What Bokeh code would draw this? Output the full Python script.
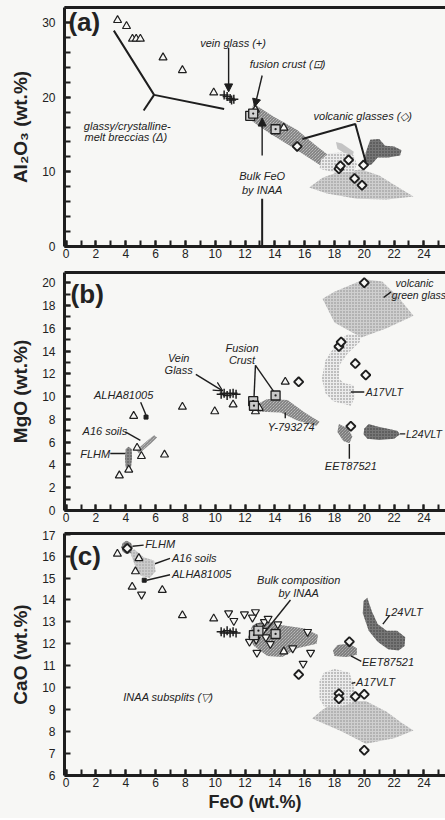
import math
from bokeh.plotting import figure
from bokeh.layouts import column
from bokeh.models import (LinearAxis, SingleIntervalTicker, FixedTicker, Range1d,
                          Arrow, NormalHead, OpenHead)
from bokeh.core.properties import value
from bokeh.embed import file_html
from bokeh.resources import INLINE

# ---------------- Panel (a): Al2O3 vs FeO ----------------
a_brec_feo = [3.45, 4.05, 4.45, 4.7, 4.98, 6.5, 7.8, 9.9, 12.7, 14.6]
a_brec_al = [30.3, 29.5, 27.8, 27.8, 27.8, 25.3, 23.6, 20.6, 18.3, 15.9]
a_vein_feo = [10.6, 10.8, 11.0, 11.1, 11.25]
a_vein_al = [20.3, 20.1, 19.8, 19.6, 19.7]
a_crust_feo = [12.35, 12.55, 14.05]
a_crust_al = [17.5, 17.8, 15.7]
a_volc_feo = [15.5, 18.3, 18.4, 18.95, 19.95, 19.35, 19.85]
a_volc_al = [13.4, 10.4, 10.8, 11.6, 10.9, 9.1, 8.2]

a_band_x = [12.3, 12.6, 13.9, 15.5, 16.9, 17.8, 18.0, 17.1, 15.5, 13.7, 12.4]
a_band_y = [17.8, 19.1, 17.4, 15.6, 13.3, 11.9, 10.4, 10.8, 12.9, 15.1, 16.9]
a_big_x = [16.3, 17.2, 18.3, 19.8, 21.0, 22.3, 23.3, 21.5, 19.5, 17.5]
a_big_y = [7.9, 9.2, 10.0, 10.3, 9.5, 7.9, 6.7, 6.3, 6.4, 7.1]
a_grid_x = [17.0, 17.1, 17.6, 18.6, 19.3, 19.5, 19.3, 18.0]
a_grid_y = [10.4, 11.6, 12.5, 12.6, 12.2, 11.0, 10.0, 9.9]
a_light_x = [18.1, 18.5, 19.3, 19.2, 18.6, 18.2]
a_light_y = [14.0, 13.8, 12.7, 12.0, 12.6, 13.1]
a_dark_x = [19.95, 20.1, 20.4, 21.0, 21.4, 22.0, 22.5, 22.4, 21.6, 20.9, 20.5]
a_dark_y = [10.6, 12.6, 14.3, 14.4, 13.5, 13.4, 12.9, 12.2, 11.9, 11.9, 11.0]

a_lines_x = [[3.2, 5.9, 10.6], [5.9, 5.2], [15.85, 19.4, 20.1], [13.15, 13.15]]
a_lines_y = [[28.9, 20.3, 18.4], [20.3, 18.2], [14.4, 16.4, 11.3], [0.0, 6.4]]
a_arrows = [(10.9, 26.6, 10.9, 20.7), (13.15, 22.9, 12.65, 18.7), (13.15, 12.2, 13.15, 17.2)]
a_text = ["vein glass (+)", "fusion crust (⊡)", "glassy/crystalline-", "melt breccias (Δ)",
          "Bulk FeO", "by INAA", "volcanic glasses (◇)"]
a_text_x = [11.2, 14.85, 4.1, 4.0, 13.15, 13.15, 19.9]
a_text_y = [27.3, 24.5, 16.2, 14.6, 9.5, 7.5, 17.5]

# ---------------- Panel (b): MgO vs FeO ----------------
b_brec_feo = [3.57, 4.2, 4.53, 4.76, 5.05, 6.6, 7.8, 9.97, 11.2, 12.7, 12.95, 14.7]
b_brec_mg = [3.07, 3.57, 8.3, 5.5, 4.77, 4.9, 9.1, 8.7, 9.3, 8.7, 9.0, 11.3]
b_vein_feo = [10.4, 10.6, 10.8, 11.0, 11.2, 11.4]
b_vein_mg = [10.2, 10.3, 10.1, 10.25, 10.3, 10.2]
b_crust_feo = [12.55, 12.6, 14.05]
b_crust_mg = [9.6, 9.2, 10.1]
b_volc_feo = [20.0, 18.3, 18.45, 19.4, 20.1, 15.6, 19.1]
b_volc_mg = [20.0, 14.4, 14.8, 12.9, 11.9, 11.3, 7.4]
b_alha_feo = [5.36]
b_alha_mg = [8.2]

b_flhm_x = [4.0, 3.95, 4.0, 4.2, 4.4, 4.42, 4.35, 4.2]
b_flhm_y = [3.8, 4.6, 5.4, 5.6, 5.4, 4.6, 3.8, 3.6]
b_a16_x = [4.7, 5.5, 5.9, 6.1, 5.7, 4.9]
b_a16_y = [5.3, 6.2, 6.6, 6.4, 5.9, 5.0]
b_y79_x = [12.3, 13.5, 14.85, 16.0, 17.0, 16.8, 15.5, 14.4, 12.6]
b_y79_y = [9.0, 9.8, 9.7, 8.6, 7.8, 7.45, 7.9, 8.6, 8.7]
b_green_x = [17.2, 18.0, 20.0, 21.2, 22.3, 23.3, 21.5, 19.8, 18.0]
b_green_y = [18.6, 19.2, 20.3, 20.1, 18.7, 17.1, 16.0, 15.2, 16.5]
b_a17_x = [18.9, 18.2, 17.4, 17.15, 17.4, 17.9, 19.1, 19.35, 19.3, 18.6, 18.3, 18.35, 18.9, 19.7, 19.75]
b_a17_y = [15.5, 14.8, 13.2, 11.6, 10.3, 9.6, 9.2, 9.9, 11.0, 11.2, 11.6, 12.8, 13.8, 14.8, 15.4]
b_eet_x = [18.3, 18.9, 19.2, 19.0, 18.6, 18.2]
b_eet_y = [7.6, 7.2, 6.5, 5.9, 6.1, 6.9]
b_l24_x = [20.0, 20.3, 20.8, 21.5, 22.2, 22.4, 22.0, 21.0, 20.2, 19.95]
b_l24_y = [7.2, 7.6, 7.4, 7.2, 7.0, 6.7, 6.3, 6.2, 6.3, 6.7]

b_lines_x = [[5.0, 5.37], [3.97, 4.98], [2.96, 3.97], [12.7, 12.6], [12.7, 14.0],
             [14.7, 14.7], [21.3, 21.8], [19.1, 20.0], [22.4, 22.75], [19.0, 19.0]]
b_lines_y = [[9.5, 8.35], [6.9, 6.15], [5.0, 5.0], [12.75, 9.8], [12.75, 10.3],
             [8.1, 8.6], [18.7, 19.2], [10.4, 10.4], [6.73, 6.73], [5.85, 4.55]]
b_arrows = [(8.7, 11.95, 10.5, 10.5)]
b_text_c = ["ALHA81005", "A16 soils", "FLHM", "Vein", "Glass", "Fusion", "Crust",
            "Y-793274", "EET87521"]
b_text_c_x = [3.86, 2.6, 1.95, 7.55, 7.55, 11.8, 11.8, 15.1, 19.1]
b_text_c_y = [10.1, 7.0, 5.0, 13.4, 12.3, 14.25, 13.2, 7.3, 3.95]
b_text_l = ["volcanic", "green glass", "A17VLT", "L24VLT"]
b_text_l_x = [22.1, 21.85, 20.1, 22.8]
b_text_l_y = [20.0, 18.9, 10.4, 6.73]

# ---------------- Panel (c): CaO vs FeO ----------------
c_brec_feo = [3.44, 4.88, 4.65, 4.43, 6.45, 7.8, 9.9, 14.6]
c_brec_ca = [16.1, 15.9, 15.3, 14.6, 14.45, 13.3, 13.15, 11.65]
c_inaa_feo = [5.06, 10.9, 11.25, 11.96, 12.7, 12.5, 13.3, 13.55, 14.2, 12.75, 12.8,
              13.4, 13.7, 13.2, 16.2, 15.2, 16.4, 15.9, 12.3, 13.0]
c_inaa_ca = [14.25, 13.4, 13.05, 13.35, 13.45, 13.2, 13.0, 13.15, 12.9, 12.2, 11.6,
             12.3, 12.0, 12.6, 12.55, 11.8, 11.6, 11.1, 12.1, 12.8]
c_vein_feo = [10.4, 10.6, 10.8, 11.0, 11.2, 11.4]
c_vein_ca = [12.55, 12.5, 12.6, 12.5, 12.55, 12.5]
c_crust_feo = [12.6, 14.05, 12.9]
c_crust_ca = [12.4, 12.45, 12.6]
c_volc_feo = [4.1, 19.0, 18.3, 18.3, 19.4, 20.0, 20.0, 15.6]
c_volc_ca = [16.35, 12.1, 9.73, 9.5, 9.6, 9.7, 7.15, 10.6]
c_alha_feo = [5.24]
c_alha_ca = [14.9]

c_flhm_x = [3.7, 3.8, 4.05, 4.35, 4.45, 4.35, 4.05, 3.8]
c_flhm_y = [16.4, 16.6, 16.7, 16.6, 16.4, 16.15, 16.1, 16.2]
c_a16_x = [4.25, 4.6, 5.2, 5.9, 6.0, 5.6, 5.0, 4.6]
c_a16_y = [16.25, 16.3, 15.95, 15.8, 15.3, 15.0, 15.1, 15.6]
c_bulk_x = [12.2, 12.5, 13.3, 14.5, 16.0, 16.9, 16.8, 15.5, 14.5, 13.5, 12.6]
c_bulk_y = [12.3, 12.85, 13.05, 12.85, 12.7, 12.4, 12.0, 11.8, 11.4, 11.45, 11.9]
c_l24_x = [19.9, 19.95, 20.2, 20.5, 20.9, 21.5, 22.2, 22.75, 22.7, 22.3, 21.6, 20.9, 20.3]
c_l24_y = [13.4, 13.95, 14.1, 13.5, 12.9, 12.6, 12.6, 12.3, 11.9, 11.7, 11.75, 12.1, 12.6]
c_eet_x = [17.9, 18.2, 19.0, 19.5, 19.5, 18.8, 18.0]
c_eet_y = [11.7, 11.95, 12.0, 11.8, 11.5, 11.4, 11.45]
c_a17_x = [17.0, 17.0, 17.3, 18.0, 19.0, 19.35, 19.2, 18.2, 17.3]
c_a17_y = [9.5, 10.3, 10.7, 10.85, 10.7, 10.0, 9.3, 9.1, 9.15]
c_green_x = [16.5, 17.2, 17.9, 19.0, 20.1, 21.5, 22.5, 23.3, 22.0, 20.1, 18.5]
c_green_y = [8.6, 9.0, 9.3, 9.4, 9.4, 8.9, 8.4, 8.05, 7.7, 7.45, 8.0]

c_lines_x = [[4.45, 5.2], [5.96, 6.97], [5.4, 6.97], [15.05, 13.4], [21.7, 21.25],
             [19.1, 19.8], [19.15, 19.4]]
c_lines_y = [[16.45, 16.5], [15.65, 15.9], [14.9, 15.15], [14.0, 12.6], [13.3, 12.9],
             [11.45, 11.2], [10.2, 10.24]]
c_text_c = ["Bulk composition", "by INAA", "INAA subsplits (▽)"]
c_text_c_x = [15.6, 15.6, 6.85]
c_text_c_y = [14.9, 14.3, 9.6]
c_text_l = ["FLHM", "A16 soils", "ALHA81005", "L24VLT", "EET87521", "A17VLT"]
c_text_l_x = [5.3, 7.1, 7.1, 21.4, 19.85, 19.45]
c_text_l_y = [16.55, 15.9, 15.2, 13.45, 11.17, 10.24]

# ---------------- styling helpers ----------------
INK = "#1e1e1e"
BG = "#f7f7f5"
FONT = "Liberation Sans"
XR = (-0.11, 25.45)


def style_axis(ax, label=None):
    ax.axis_line_width = 3
    ax.axis_line_color = INK
    ax.major_tick_in = 6
    ax.major_tick_out = 0
    ax.minor_tick_in = 6
    ax.minor_tick_out = 0
    ax.major_tick_line_width = 2
    ax.minor_tick_line_width = 2
    ax.major_tick_line_color = INK
    ax.minor_tick_line_color = INK
    ax.major_label_text_font = FONT
    ax.major_label_text_font_size = "12px"
    ax.major_label_text_color = "#222"
    if label is not None:
        ax.axis_label = label
        ax.axis_label_text_font = FONT
        ax.axis_label_text_font_style = "bold"
        ax.axis_label_text_font_size = "19px"
        ax.axis_label_text_color = "#222"


def make_fig(height, yr, bt, bb, yint, yminor, ylabel, xlabel=None):
    p = figure(width=445, height=height, x_range=Range1d(*XR), y_range=Range1d(*yr),
               output_backend="svg", toolbar_location=None,
               min_border_left=64, min_border_right=0, min_border_top=bt, min_border_bottom=bb)
    p.outline_line_color = None
    p.background_fill_color = BG
    p.border_fill_color = BG
    p.xgrid.visible = False
    p.ygrid.visible = False
    p.xaxis.ticker = SingleIntervalTicker(interval=2, num_minor_ticks=2)
    p.yaxis.ticker = SingleIntervalTicker(interval=yint, num_minor_ticks=yminor)
    style_axis(p.xaxis[0], xlabel)
    p.xaxis.major_label_standoff = 2
    p.xaxis.axis_label_standoff = 2
    style_axis(p.yaxis[0], ylabel)
    p.yaxis.major_label_standoff = 9
    p.yaxis.axis_label_standoff = 8
    top = LinearAxis(ticker=FixedTicker(ticks=[]), axis_line_width=3, axis_line_color=INK,
                     major_label_standoff=0, major_tick_out=0, minor_tick_out=0)
    p.add_layout(top, "above")
    return p


def region(p, xs, ys, fill, hatch=None, hcolor="#555", scale=3.0, weight=1.0):
    kw = dict(fill_color=fill, line_color=None)
    if hatch:
        kw.update(hatch_pattern=hatch, hatch_color=hcolor, hatch_scale=scale, hatch_weight=weight)
    p.patch(xs, ys, **kw)


def pts(p, x, y, marker, size=8, fill=None, lw=1.3):
    p.scatter(x, y, marker=marker, size=size, fill_color=fill if fill else BG,
              line_color=INK, line_width=lw)


def diam(p, x, y):
    p.scatter(x, y, marker="square", angle=math.pi / 4, size=6.5, fill_color=BG,
              line_color=INK, line_width=1.9)


def vein(p, x, y):
    p.scatter(x, y, marker="cross", size=9, line_color=INK, line_width=1.5)


def txt(p, x, y, t, align="center", size="11px", style="italic"):
    p.text(x=x, y=y, text=t, text_font=value(FONT), text_font_style=style,
           text_font_size=size, text_align=align, text_baseline="middle", text_color="#222")


def arrows(p, arr, head="normal"):
    for (x0, y0, x1, y1) in arr:
        if head == "normal":
            h = NormalHead(size=8, fill_color=INK, line_color=INK)
        else:
            h = OpenHead(size=9, line_color=INK, line_width=1.2)
        p.add_layout(Arrow(end=h, x_start=x0, y_start=y0, x_end=x1, y_end=y1,
                           line_color=INK, line_width=1.4))


# ---------------- Panel (a) ----------------
pa = make_fig(268, (0, 32.0), 7, 22, 10, 5, "Al₂O₃ (wt.%)")
region(pa, a_big_x, a_big_y, "#cfcfcf", "dot", "#8a8a8a", 3.0, 1.0)
region(pa, a_light_x, a_light_y, "#c4c4c4")
region(pa, a_band_x, a_band_y, "#d8d8d8", "left_diagonal_line", "#6a6a6a", 3.0, 1.0)
region(pa, a_grid_x, a_grid_y, "#ececec", "dot", "#777", 3.0, 1.2)
region(pa, a_dark_x, a_dark_y, "#777777", "dot", "#3c3c3c", 3.0, 1.0)
pa.multi_line(a_lines_x, a_lines_y, line_color=INK, line_width=2)
arrows(pa, a_arrows)
pts(pa, a_brec_feo, a_brec_al, "triangle", 8, lw=1.2)
pts(pa, a_crust_feo, a_crust_al, "square_dot", 9, "#d0d0d0")
diam(pa, a_volc_feo, a_volc_al)
vein(pa, a_vein_feo, a_vein_al)
txt(pa, a_text_x, a_text_y, a_text)
txt(pa, [0.15], [30.1], ["(a)"], "left", "26px", "bold")

# ---------------- Panel (b) ----------------
pb = make_fig(262, (0, 20.9), 4, 20, 2, 2, "MgO (wt.%)")
region(pb, b_green_x, b_green_y, "#cfcfcf", "dot", "#8a8a8a", 3.0, 1.0)
region(pb, b_a17_x, b_a17_y, "#ececec", "dot", "#777", 3.0, 1.2)
region(pb, b_y79_x, b_y79_y, "#d8d8d8", "left_diagonal_line", "#6a6a6a", 3.0, 1.0)
region(pb, b_eet_x, b_eet_y, "#c8c8c8", "left_diagonal_line", "#666", 3.0, 1.0)
region(pb, b_l24_x, b_l24_y, "#777777", "dot", "#3c3c3c", 3.0, 1.0)
region(pb, b_a16_x, b_a16_y, "#d0d0d0", "left_diagonal_line", "#777", 3.0, 1.0)
region(pb, b_flhm_x, b_flhm_y, "#8a8a8a", "dot", "#444", 3.0, 1.0)
pb.multi_line(b_lines_x, b_lines_y, line_color=INK, line_width=1.4)
arrows(pb, b_arrows, "open")
pts(pb, b_brec_feo, b_brec_mg, "triangle", 8, lw=1.2)
pts(pb, b_crust_feo, b_crust_mg, "square_dot", 9, "#c8c8c8")
diam(pb, b_volc_feo, b_volc_mg)
vein(pb, b_vein_feo, b_vein_mg)
pb.scatter(b_alha_feo, b_alha_mg, marker="square", size=4, fill_color=INK, line_color=INK)
txt(pb, b_text_c_x, b_text_c_y, b_text_c)
txt(pb, b_text_l_x, b_text_l_y, b_text_l, "left", "10.5px")
txt(pb, [0.3], [19.05], ["(b)"], "left", "26px", "bold")

# ---------------- Panel (c) ----------------
pc = make_fig(288, (6, 17.03), 3, 43, 1, 0, "CaO (wt.%)", "FeO (wt.%)")
pc.xaxis.axis_label_text_font_size = "18px"
region(pc, c_green_x, c_green_y, "#cfcfcf", "dot", "#8a8a8a", 3.0, 1.0)
region(pc, c_a17_x, c_a17_y, "#ececec", "dot", "#777", 3.0, 1.2)
region(pc, c_bulk_x, c_bulk_y, "#d8d8d8", "left_diagonal_line", "#6a6a6a", 3.0, 1.0)
region(pc, c_eet_x, c_eet_y, "#c8c8c8", "left_diagonal_line", "#666", 3.0, 1.0)
region(pc, c_l24_x, c_l24_y, "#777777", "dot", "#3c3c3c", 3.0, 1.0)
region(pc, c_a16_x, c_a16_y, "#cccccc", "dot", "#999", 3.0, 1.0)
region(pc, c_flhm_x, c_flhm_y, "#8a8a8a", "dot", "#444", 3.0, 1.0)
pc.multi_line(c_lines_x, c_lines_y, line_color=INK, line_width=1.4)
pts(pc, c_brec_feo, c_brec_ca, "triangle", 8, lw=1.2)
pts(pc, c_inaa_feo, c_inaa_ca, "inverted_triangle", 8, lw=1.2)
pts(pc, c_crust_feo, c_crust_ca, "square_dot", 9, "#c8c8c8")
diam(pc, c_volc_feo, c_volc_ca)
vein(pc, c_vein_feo, c_vein_ca)
pc.scatter(c_alha_feo, c_alha_ca, marker="square", size=4, fill_color=INK, line_color=INK)
txt(pc, c_text_c_x, c_text_c_y, c_text_c)
txt(pc, c_text_l_x, c_text_l_y, c_text_l, "left")
txt(pc, [0.2], [16.0], ["(c)"], "left", "26px", "bold")

layout = column(pa, pb, pc, spacing=0)
layout.styles = {"background-color": BG}
open("out.html", "w").write(file_html(layout, INLINE))
